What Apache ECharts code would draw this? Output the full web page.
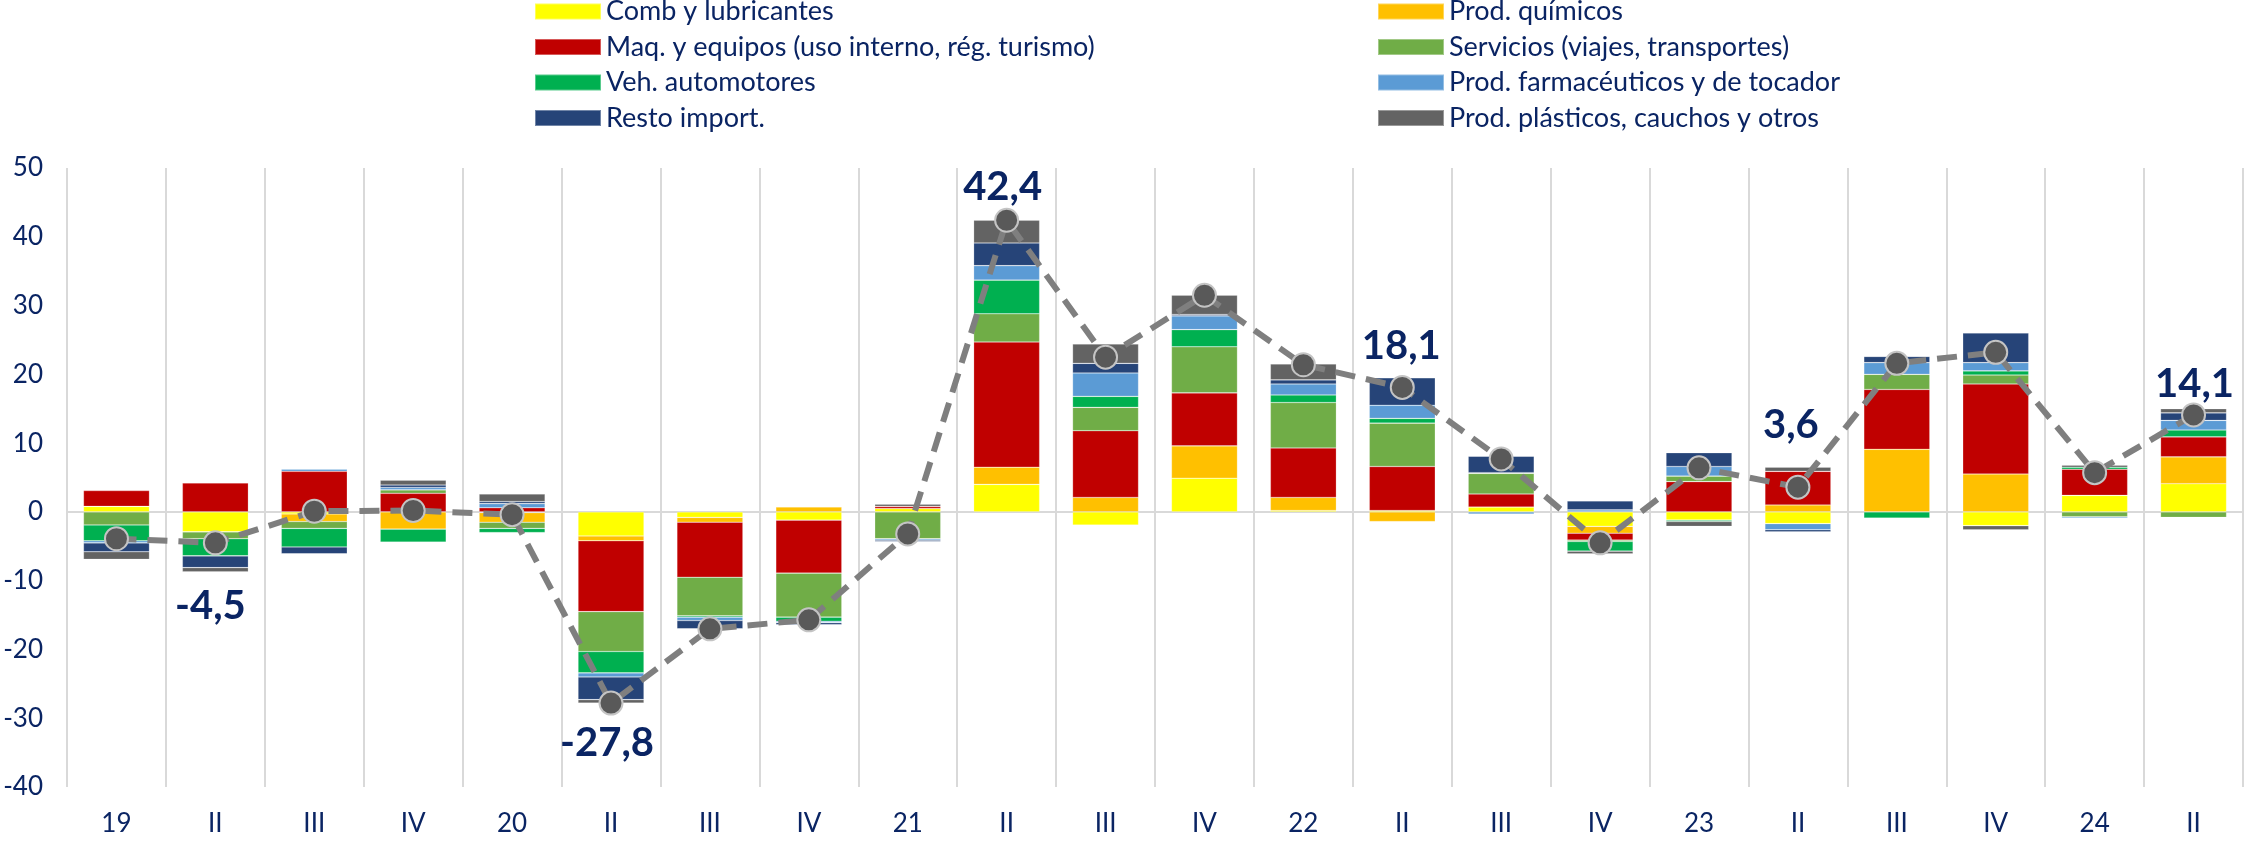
<!DOCTYPE html>
<html>
<head>
<meta charset="utf-8">
<script src="https://cdn.jsdelivr.net/npm/echarts@6/dist/echarts.min.js"></script>
<style>
  html, body { margin: 0; padding: 0; background: #fff; }
  #chart { width: 2249px; height: 841px; }
</style>
</head>
<body>
<div id="chart"></div>
<script>
// trimestres
const categories = ['19', 'II', 'III', 'IV', '20', 'II', 'III', 'IV', '21', 'II', 'III', 'IV',
                    '22', 'II', 'III', 'IV', '23', 'II', 'III', 'IV', '24', 'II'];

// contribuciones por rubro (p.p.)
const comb   = [0.8, -2.9, -0.3, 0, -0.1, -3.5, -0.8, -1.2, 0.5, 4.0, -1.9, 4.9, 0.2, 0.2, 0.7, -2.1, -1.2, -1.7, 0, -2.0, 2.4, 4.1];
const quim   = [0, 0, -1.1, -2.5, -1.4, -0.7, -0.7, 0.7, 0, 2.5, 2.1, 4.7, 1.9, -1.4, 0, -1.0, 0, 1.0, 9.1, 5.5, 0, 3.9];
const maq    = [2.3, 4.2, 5.9, 2.7, 0.6, -10.3, -8.0, -7.7, 0.3, 18.2, 9.7, 7.7, 7.2, 6.4, 1.9, -1.0, 4.4, 4.9, 8.7, 13.1, 3.8, 2.9];
const serv   = [-1.9, -1.0, -1.0, 0.5, -0.9, -5.8, -5.6, -6.4, -3.9, 4.1, 3.4, 6.7, 6.6, 6.3, 3.0, -0.2, 0.8, 0, 2.2, 1.3, -0.7, -0.8];
const veh    = [-2.3, -2.5, -2.7, -1.9, -0.6, -3.1, -0.2, -0.6, 0, 4.9, 1.6, 2.5, 1.1, 0.7, 0.1, -1.4, -0.2, 0, -0.9, 0.6, 0.3, 1.0];
const farm   = [-0.3, 0, 0.3, 0.35, 0.6, -0.6, -0.5, -0.2, -0.2, 2.1, 3.4, 2.0, 1.6, 1.9, -0.3, 0.3, 1.4, -0.9, 1.7, 1.2, -0.2, 1.4];
const resto  = [-1.3, -1.7, -1.0, 0.35, 0.3, -3.3, -1.2, -0.3, -0.2, 3.3, 1.4, 0.2, 0.6, 4.0, 2.4, 1.3, 2.0, -0.3, 0.9, 4.3, 0, 1.1];
const plast  = [-1.1, -0.6, 0, 0.7, 1.1, -0.5, 0, 0, 0.3, 3.3, 2.8, 2.8, 2.3, 0, 0, -0.4, -0.7, 0.6, 0, -0.6, 0.3, 0.6];

// variación total
const total  = [-3.9, -4.5, 0.1, 0.2, -0.4, -27.8, -17.0, -15.7, -3.2, 42.4, 22.5, 31.5, 21.4, 18.1, 7.7, -4.5, 6.4, 3.6, 21.6, 23.2, 5.7, 14.1];

// eje y
const yTicks = [-40, -30, -20, -10, 0, 10, 20, 30, 40, 50];

const navy = '#0a2463';
const font = 'Lato, "Open Sans", sans-serif';

const rubros = [
  { name: 'Comb y lubricantes', data: comb, color: '#FFFF00' },
  { name: 'Prod. químicos', data: quim, color: '#FFC000' },
  { name: 'Maq. y equipos (uso interno, rég. turismo)', data: maq, color: '#C00000' },
  { name: 'Servicios (viajes, transportes)', data: serv, color: '#70AD47' },
  { name: 'Veh. automotores', data: veh, color: '#00B050' },
  { name: 'Prod. farmacéuticos y de tocador', data: farm, color: '#5B9BD5' },
  { name: 'Resto import.', data: resto, color: '#264478' },
  { name: 'Prod. plásticos, cauchos y otros', data: plast, color: '#636363' }
];

// etiquetas visibles sobre la línea: índice y desplazamiento
const labelSpots = { 1: [-5, 63], 5: [-4, 40], 9: [-4, -33], 13: [-1, -41], 17: [-7, -62], 21: [1, -31] };

var chart = echarts.init(document.getElementById('chart'));

var series = rubros.map(function (r) {
  return {
    name: r.name,
    type: 'bar',
    stack: 'total',
    barWidth: 66,
    itemStyle: { color: r.color, borderColor: 'rgba(255,255,255,0.35)', borderWidth: 0.6 },
    data: r.data
  };
});

series.push({
  name: 'Total',
  type: 'line',
  z: 10,
  symbol: 'circle',
  symbolSize: 23,
  lineStyle: { color: '#7f7f7f', width: 6, type: [20, 11] },
  itemStyle: { color: '#595959', borderColor: '#c4c4c4', borderWidth: 2 },
  label: {
    show: false,
    position: 'inside',
    color: navy,
    fontFamily: font,
    fontWeight: 'bold',
    fontSize: 40,
    formatter: function (p) { return p.value.toFixed(1).replace('.', ','); }
  },
  data: total.map(function (v, i) {
    if (labelSpots[i]) {
      return { value: v, label: { show: true, offset: labelSpots[i] } };
    }
    return v;
  })
});

// solo la línea del cero
var zeroColors = yTicks.map(function (t) { return t === 0 ? '#d9d9d9' : 'rgba(0,0,0,0)'; });

var legendText = { color: navy, fontFamily: font, fontSize: 27, lineHeight: 27 };

var option = {
  animation: false,
  backgroundColor: '#fff',
  legend: [
    {
      orient: 'vertical', left: 534, top: -2, padding: 0,
      itemWidth: 66, itemHeight: 16, itemGap: 8.5,
      icon: 'rect', textStyle: legendText,
      data: [rubros[0].name, rubros[2].name, rubros[4].name, rubros[6].name]
    },
    {
      orient: 'vertical', left: 1377, top: -2, padding: 0,
      itemWidth: 66, itemHeight: 16, itemGap: 8.5,
      icon: 'rect', textStyle: legendText,
      data: [rubros[1].name, rubros[3].name, rubros[5].name, rubros[7].name]
    }
  ],
  grid: { left: 67, right: 6, top: 168, bottom: 54 },
  xAxis: {
    type: 'category',
    data: categories,
    axisLine: { show: false },
    axisTick: { show: false },
    axisLabel: { color: navy, fontFamily: font, fontSize: 26, margin: 24, interval: 0 },
    splitLine: { show: true, interval: 0, lineStyle: { color: '#d9d9d9', width: 2 } }
  },
  yAxis: {
    type: 'value',
    min: -40,
    max: 50,
    interval: 10,
    axisLine: { show: false },
    axisTick: { show: false },
    axisLabel: { color: navy, fontFamily: font, fontSize: 26, margin: 24 },
    splitLine: { show: true, lineStyle: { color: zeroColors, width: 2 } }
  },
  series: series
};

chart.setOption(option);
</script>
</body>
</html>
